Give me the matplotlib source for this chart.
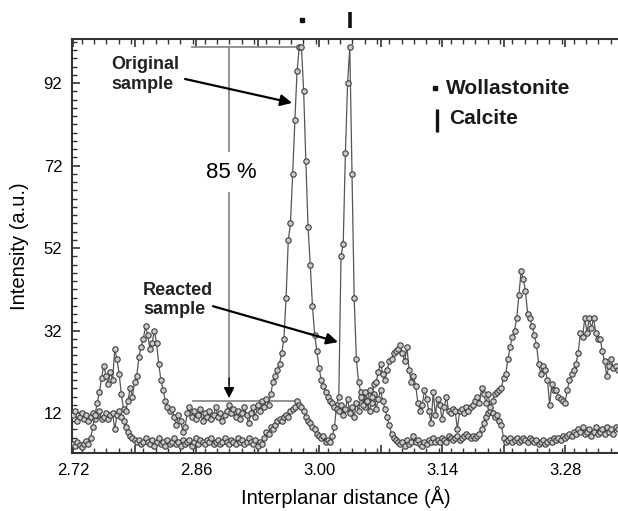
import numpy as np
import matplotlib
matplotlib.use("Agg")
import matplotlib.pyplot as plt
from matplotlib.ticker import FixedLocator, MultipleLocator, FuncFormatter
from matplotlib.transforms import blended_transform_factory

plt.rcParams['font.family'] = ['Liberation Sans', 'DejaVu Sans']

# ---- data -------------------------------------------------------------
d_start, d_step, n_pts = 2.72, 0.0025, 249
d_spacing = np.round(d_start + d_step * np.arange(n_pts), 4)

original = [
    4.5, 4.0, 5.0, 4.2, 3.8, 4.5, 5.2, 4.6, 6.0, 8.5,
    11.5, 14.5, 17.0, 20.5, 23.5, 21.0, 19.0, 22.0, 20.0, 27.5,
    25.0, 21.5, 16.5, 13.0, 12.5, 15.0, 18.0, 16.0, 19.5, 21.0,
    25.5, 28.0, 30.0, 33.0, 31.0, 27.5, 29.0, 32.0, 29.0, 24.0,
    20.0, 17.5, 15.0, 13.5, 12.5, 13.0, 11.0, 9.0, 11.5, 10.0,
    7.5, 8.5, 12.0, 13.5, 11.0, 12.5, 10.5, 11.5, 13.0, 10.0,
    12.0, 11.0, 12.5, 10.5, 11.5, 13.5, 11.0, 12.0, 10.0, 11.5,
    12.5, 14.0, 12.0, 13.0, 11.0, 12.5, 10.5, 12.0, 13.5, 11.5,
    9.5, 12.0, 13.5, 11.0, 14.0, 12.5, 15.0, 13.5, 15.5, 14.0,
    16.5, 19.5, 21.0, 22.5, 24.0, 26.5, 30.0, 40.0, 54.0, 58.0,
    70.0, 83.0, 95.0, 100.7, 100.7, 90.0, 73.0, 57.0, 48.0, 38.0,
    31.0, 27.0, 23.0, 20.0, 18.5, 17.0, 16.0, 15.0, 14.5, 13.5,
    13.0, 12.5, 14.0, 11.5, 13.0, 15.5, 12.0, 13.5, 11.0, 14.5,
    12.5, 16.0, 14.0, 17.0, 15.0, 17.5, 16.0, 19.0, 19.5, 22.0,
    24.0, 21.5, 20.0, 22.5, 24.5, 25.0, 26.5, 27.0, 27.5, 28.5,
    26.5, 24.5, 28.0, 22.5, 19.5, 21.0, 18.5, 14.5, 12.5, 14.0,
    17.5, 15.5, 12.5, 9.5, 17.0, 11.5, 15.5, 14.0, 10.5, 13.5,
    16.0, 12.5, 12.0, 13.0, 12.5, 8.0, 12.5, 13.0, 12.0, 13.5,
    12.5, 13.5, 14.0, 15.0, 16.0, 14.5, 18.0, 16.5, 14.5, 16.5,
    13.5, 15.0, 16.5, 17.0, 17.5, 18.0, 20.5, 21.5, 25.0, 28.0,
    30.5, 32.0, 35.0, 40.5, 46.5, 44.5, 41.5, 36.0, 35.0, 33.0,
    31.0, 28.5, 24.0, 21.5, 23.5, 22.5, 20.0, 14.0, 19.0, 17.5,
    17.5, 16.0, 15.5, 15.0, 14.5, 17.5, 20.0, 21.5, 22.5, 24.0,
    26.5, 31.5, 30.5, 35.0, 31.5, 35.0, 32.5, 35.0, 31.5, 30.0,
    30.0, 27.0, 24.5, 21.0, 23.5, 25.0, 23.0, 23.5, 22.5,
]

reacted = [
    11.5, 12.5, 10.0, 11.0, 12.0, 10.5, 11.5, 10.0, 11.0, 12.0,
    10.5, 11.5, 12.5, 10.5, 11.0, 12.0, 10.5, 11.5, 12.0, 8.0,
    11.5, 12.5, 11.0, 10.0, 8.5, 7.5, 6.5, 6.0, 5.5, 5.0,
    5.5, 4.5, 5.0, 6.0, 5.0, 4.5, 5.5, 4.0, 5.0, 6.0,
    4.5, 5.0, 4.0, 5.5, 4.5, 5.0, 6.0, 4.5, 5.0, 4.0,
    5.5, 4.5, 5.0, 5.5, 4.0, 5.0, 6.0, 4.5, 5.5, 5.0,
    4.5, 5.5, 5.0, 6.0, 4.5, 5.0, 5.5, 4.5, 5.0, 6.0,
    5.0, 4.5, 5.5, 5.0, 4.5, 6.0, 5.0, 5.5, 4.5, 5.0,
    6.0, 5.0, 4.5, 5.5, 4.0, 5.0, 4.5, 6.0, 7.5, 7.0,
    8.5, 8.0, 9.0, 10.0, 10.5, 10.0, 11.0, 11.5, 11.0, 12.5,
    13.0, 13.5, 14.8, 14.0, 13.5, 12.5, 11.0, 10.0, 9.5, 8.5,
    8.0, 7.0, 6.5, 6.0, 6.5, 5.0, 5.5, 5.0, 6.5, 8.5,
    14.0, 16.0, 50.0, 53.0, 75.0, 92.0, 100.7, 70.0, 40.0, 25.0,
    19.5, 17.0, 16.0, 13.5, 15.0, 12.5, 14.5, 16.5, 13.0, 15.5,
    17.5, 15.0, 13.0, 11.0, 9.0, 7.0, 6.0, 5.5, 5.0, 4.5,
    5.0, 4.0, 5.5, 4.5, 5.0, 6.5, 5.0, 5.5, 4.5, 4.0,
    5.0, 4.5, 5.5, 5.0, 6.0, 5.0, 5.5, 5.0, 6.0, 5.5,
    5.0, 6.5, 6.0, 5.5, 6.0, 6.5, 5.5, 6.0, 6.5, 7.0,
    6.5, 6.0, 6.5, 6.0, 6.5, 7.0, 8.0, 9.5, 11.0, 12.0,
    12.5, 12.0, 11.0, 11.5, 10.0, 9.0, 6.0, 5.0, 5.5, 6.0,
    5.0, 5.5, 6.0, 5.0, 5.5, 6.0, 5.5, 5.0, 6.0, 5.5,
    5.0, 5.5, 4.5, 5.0, 5.5, 4.5, 5.0, 5.5, 5.0, 6.0,
    5.5, 6.0, 5.5, 6.5, 6.0, 6.5, 7.0, 6.5, 7.5, 7.0,
    8.0, 7.5, 8.5, 7.0, 7.5, 8.0, 6.5, 7.5, 8.5, 7.0,
    7.5, 8.0, 7.0, 8.5, 7.5, 8.0, 7.0, 8.5, 8.0,
]

x_tick_labels = ["2.72", "2.86", "3.00", "3.14", "3.28"]
y_tick_labels = ["12", "32", "52", "72", "92"]
wollastonite_peak = 2.9806
calcite_peak = 3.0353
peak_level = 100.7
reacted_level = 14.9
drop_label = "85 %"

# ---- figure -------------------------------------------------------------
fig = plt.figure(figsize=(6.18, 5.11), dpi=100)
ax = fig.add_axes([72 / 618, 1 - 453 / 511, 1 - 72 / 618, (453 - 39) / 511])
ax.set_xlim(2.7188, 3.3403)
ax.set_ylim(2.3, 102.7)

line_kw = dict(color='#555555', lw=0.9, marker='o', ms=3.9,
               mfc='#c9c9c9', mec='#3c3c3c', mew=0.8)
ax.plot(d_spacing, reacted, zorder=3, **line_kw)
ax.plot(d_spacing, original, zorder=4, **line_kw)

# ticks
xt = [float(v) for v in x_tick_labels]
ax.xaxis.set_major_locator(FixedLocator(np.round(np.arange(2.72, 3.35, 0.07), 3)))
ax.xaxis.set_minor_locator(MultipleLocator(0.014))
ax.xaxis.set_major_formatter(FuncFormatter(
    lambda v, p: f"{v:.2f}" if any(abs(v - t) < 1e-6 for t in xt) else ""))
yt = [float(v) for v in y_tick_labels]
ax.yaxis.set_major_locator(FixedLocator(yt))
ax.yaxis.set_minor_locator(MultipleLocator(2))
ax.yaxis.set_major_formatter(FuncFormatter(lambda v, p: f"{v:.0f}"))
ax.tick_params(which='both', direction='in', top=True, right=False,
               colors='#333333', labelcolor='black', labelsize=12)
ax.tick_params(which='major', length=6, width=1.2, pad=7)
ax.tick_params(which='minor', length=3.5, width=1.0)
for s in ['left', 'bottom', 'top']:
    ax.spines[s].set_color('#333333')
    ax.spines[s].set_linewidth(1.5)
ax.spines['right'].set_visible(False)

# 85 % construction
g = '#8a8a8a'
x_v = 2.8976
ax.plot([2.8554, 2.9784], [peak_level, peak_level], color=g, lw=1.3, zorder=2)
ax.plot([2.8566, 2.9761], [reacted_level, reacted_level], color=g, lw=1.3, zorder=2)
ax.plot([x_v, x_v], [peak_level, 19], color=g, lw=1.3, zorder=2)
ax.annotate('', xy=(x_v, 15.6), xytext=(x_v, 20.5),
            arrowprops=dict(arrowstyle='-|>', color='black', lw=1.0,
                            mutation_scale=16, shrinkA=0, shrinkB=0), zorder=5)
ax.text(x_v + 0.002, 70.4, drop_label, ha='center', va='center', fontsize=16,
        bbox=dict(fc='white', ec='none', pad=7), zorder=6)

# annotations
ax.text(2.7638, 94.0, "Original\nsample", fontsize=13, fontweight='bold',
        ha='left', va='center', color='#222222', linespacing=1.25, zorder=6)
ax.annotate('', xy=(2.9693, 87.2), xytext=(2.8475, 93.0),
            arrowprops=dict(arrowstyle='-|>', color='black', lw=1.6,
                            mutation_scale=17, shrinkA=0, shrinkB=0), zorder=6)
ax.text(2.7997, 39.4, "Reacted\nsample", fontsize=13, fontweight='bold',
        ha='left', va='center', color='#222222', linespacing=1.15, zorder=6)
ax.annotate('', xy=(3.0216, 29.2), xytext=(2.8793, 37.9),
            arrowprops=dict(arrowstyle='-|>', color='black', lw=1.6,
                            mutation_scale=17, shrinkA=0, shrinkB=0), zorder=6)

# peak position markers above the plot
tr = blended_transform_factory(ax.transData, ax.transAxes)
ax.plot([wollastonite_peak], [1.045], transform=tr, marker='s', ms=2.6,
        color='#111111', clip_on=False, ls='none')
ax.plot([calcite_peak, calcite_peak], [1.027, 1.066], transform=tr,
        color='#111111', lw=2.6, clip_on=False, solid_capstyle='butt')

# legend
ax.plot([3.1320], [90.7], marker='s', ms=2.6, color='#111111', ls='none', zorder=6)
ax.text(3.1445, 90.7, "Wollastonite", fontsize=15, fontweight='bold',
        ha='left', va='center', color='#1a1a1a', zorder=6)
ax.plot([3.1343, 3.1343], [80.2, 85.7], color='#111111', lw=2.4,
        solid_capstyle='butt', zorder=6)
ax.text(3.1480, 83.4, "Calcite", fontsize=15, fontweight='bold',
        ha='left', va='center', color='#1a1a1a', zorder=6)

# axis labels
fig.text(20 / 618, 1 - 246 / 511, "Intensity (a.u.)", rotation=90,
         ha='center', va='center', fontsize=14.5)
fig.text(346 / 618, 1 - 497 / 511, "Interplanar distance (Å)",
         ha='center', va='center', fontsize=14.5)

fig.savefig("out.png", dpi=100)
